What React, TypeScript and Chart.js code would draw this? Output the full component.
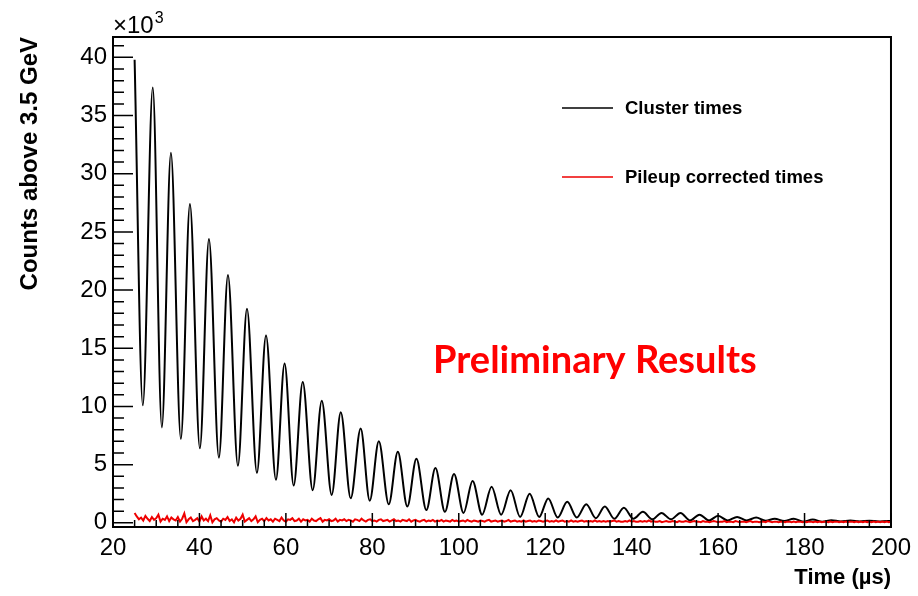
import React, { useEffect, useRef } from 'react';
import { Chart, registerables } from 'chart.js';

Chart.register(...registerables);

// Cluster times: peaks and troughs of the wiggle (counts in units of 10^3)
const clusterTimes = [
  25.0, 26.9, 29.2, 31.3, 33.4, 35.7, 37.8, 40.1, 42.2, 44.5,
  46.6, 48.9, 51.0, 53.3, 55.4, 57.7, 59.7, 61.8, 63.9, 66.2,
  68.3, 70.6, 72.7, 75.0, 77.3, 79.4, 81.5, 83.8, 85.9, 88.1,
  90.2, 92.5, 94.6, 96.8, 98.9, 101.1, 103.2, 105.4, 107.6, 109.8,
  112.0, 114.2, 116.4, 118.6, 120.7, 122.9, 125.1, 127.3, 129.5, 131.7,
  133.8, 136.0, 138.2, 140.4, 142.6, 144.8, 146.9, 149.1, 151.3, 153.5,
  155.7, 157.9, 160.0, 162.2, 164.4, 166.6, 168.8, 171.0, 173.1, 175.3,
  177.5, 179.7, 181.9, 184.1, 186.2, 188.4, 190.6, 192.8, 195.0, 197.1,
  199.3, 200.0,
];
const clusterCounts = [
  39.8, 10.1, 37.4, 8.2, 31.8, 7.2, 27.4, 6.4, 24.4, 5.6,
  21.3, 4.9, 18.4, 4.3, 16.1, 3.7, 13.7, 3.2, 12.1, 2.8,
  10.5, 2.4, 9.5, 2.1, 8.1, 1.9, 7.0, 1.6, 6.1, 1.4,
  5.5, 1.1, 4.7, 0.95, 4.2, 0.85, 3.6, 0.7, 3.1, 0.7,
  2.8, 0.5, 2.5, 0.5, 2.1, 0.45, 1.8, 0.45, 1.6, 0.4,
  1.4, 0.35, 1.3, 0.35, 0.95, 0.3, 0.85, 0.3, 0.85, 0.2,
  0.7, 0.2, 0.6, 0.2, 0.5, 0.2, 0.45, 0.18, 0.35, 0.15,
  0.35, 0.1, 0.28, 0.1, 0.22, 0.12, 0.2, 0.12, 0.18, 0.12,
  0.16, 0.15,
];

// Pileup corrected times: one value per 0.5 us bin starting at 25 us (units of 10^3)
const pileupStart = 25;
const pileupBinWidth = 0.5;
const pileupCounts = [
  0.85, 0.55, 0.30, 0.45, 0.20, 0.60, 0.35, 0.15, 0.50, 0.25, 0.40, 0.70, 0.10, 0.35, 0.25, 0.55, 0.15, 0.45, 0.30, 0.20,
  0.50, 0.10, 0.35, 0.80, 0.05, 0.30, 0.45, 0.15, 0.25, 0.40, 0.10, 0.55, 0.20, 0.35, 0.15, 0.65, 0.05, 0.30, 0.40, 0.20,
  0.10, 0.35, 0.25, 0.50, 0.15, 0.30, 0.05, 0.45, 0.20, 0.35, 0.70, 0.10, 0.25, 0.40, 0.15, 0.30, 0.55, 0.05, 0.25, 0.35,
  0.15, 0.40, 0.20, 0.30, 0.10, 0.35, 0.25, 0.15, 0.45, 0.20, 0.10, 0.30, 0.25, 0.40, 0.15, 0.20, 0.35, 0.10, 0.30, 0.20,
  0.25, 0.10, 0.35, 0.20, 0.15, 0.30, 0.40, 0.10, 0.25, 0.20, 0.30, 0.15, 0.20, 0.35, 0.10, 0.25, 0.20, 0.30, 0.15, 0.25,
  0.20, 0.10, 0.30, 0.25, 0.15, 0.35, 0.20, 0.10, 0.25, 0.30, 0.15, 0.20, 0.10, 0.25, 0.30, 0.15, 0.20, 0.25, 0.10, 0.20,
  0.30, 0.15, 0.20, 0.10, 0.25, 0.20, 0.15, 0.30, 0.10, 0.20, 0.25, 0.15, 0.10, 0.20, 0.25, 0.10, 0.20, 0.15, 0.25, 0.10,
  0.20, 0.15, 0.25, 0.10, 0.20, 0.15, 0.10, 0.25, 0.15, 0.20, 0.10, 0.15, 0.20, 0.10, 0.25, 0.15, 0.10, 0.20, 0.15, 0.10,
  0.20, 0.15, 0.10, 0.20, 0.25, 0.10, 0.15, 0.20, 0.10, 0.15, 0.20, 0.10, 0.15, 0.25, 0.10, 0.15, 0.20, 0.10, 0.15, 0.10,
  0.20, 0.10, 0.15, 0.20, 0.10, 0.15, 0.10, 0.20, 0.15, 0.10, 0.15, 0.20, 0.10, 0.15, 0.10, 0.20, 0.10, 0.15, 0.20, 0.10,
  0.15, 0.10, 0.20, 0.10, 0.15, 0.10, 0.15, 0.20, 0.10, 0.15, 0.10, 0.15, 0.10, 0.20, 0.10, 0.15, 0.10, 0.15, 0.10, 0.15,
  0.10, 0.15, 0.20, 0.10, 0.15, 0.10, 0.10, 0.15, 0.10, 0.20, 0.10, 0.15, 0.10, 0.10, 0.15, 0.10, 0.15, 0.10, 0.20, 0.10,
  0.15, 0.10, 0.10, 0.15, 0.05, 0.10, 0.15, 0.10, 0.10, 0.15, 0.10, 0.05, 0.15, 0.10, 0.10, 0.15, 0.10, 0.05, 0.10, 0.15,
  0.10, 0.10, 0.05, 0.15, 0.10, 0.10, 0.05, 0.10, 0.15, 0.10, 0.05, 0.10, 0.10, 0.15, 0.05, 0.10, 0.10, 0.05, 0.15, 0.10,
  0.05, 0.10, 0.10, 0.05, 0.10, 0.15, 0.05, 0.10, 0.10, 0.05, 0.10, 0.10, 0.05, 0.15, 0.10, 0.05, 0.10, 0.10, 0.05, 0.10,
  0.10, 0.05, 0.10, 0.10, 0.05, 0.10, 0.05, 0.10, 0.10, 0.05, 0.10, 0.05, 0.10, 0.10, 0.05, 0.10, 0.05, 0.10, 0.05, 0.10,
  0.10, 0.05, 0.10, 0.05, 0.10, 0.10, 0.05, 0.10, 0.05, 0.10, 0.05, 0.10, 0.10, 0.05, 0.10, 0.05, 0.10, 0.05, 0.10, 0.05,
  0.10, 0.05, 0.10, 0.05, 0.10, 0.05, 0.10, 0.05, 0.10, 0.05, 0.10,
];

const xTickValues = [20, 40, 60, 80, 100, 120, 140, 160, 180, 200];
const yTickValues = [0, 5, 10, 15, 20, 25, 30, 35, 40];
const xMinorStep = 5;
const yMinorStep = 1;

const seriesLabels = ['Cluster times', 'Pileup corrected times'];
const seriesColors = ['#000000', '#ee0000'];
const axisTitleX = 'Time (\u00b5s)';
const axisTitleY = 'Counts above 3.5 GeV';
const exponentBase = '\u00d710';
const exponentPower = '3';
const watermark = 'Preliminary Results';

const decorPlugin = {
  id: 'decor',
  afterDraw(chart: any) {
    const { ctx, chartArea: a, scales } = chart;
    const xs = scales.x;
    const ys = scales.y;
    ctx.save();
    ctx.strokeStyle = '#000';
    ctx.lineWidth = 1.5;
    ctx.beginPath();
    for (let v = 0; v <= ys.max; v += yMinorStep) {
      const py = ys.getPixelForValue(v);
      const len = v % 5 === 0 ? 20 : 11;
      ctx.moveTo(a.left, py);
      ctx.lineTo(a.left + len, py);
    }
    for (let v = xs.min; v <= xs.max; v += xMinorStep) {
      const px = xs.getPixelForValue(v);
      const len = v % 20 === 0 ? 14 : 7;
      ctx.moveTo(px, a.bottom);
      ctx.lineTo(px, a.bottom - len);
    }
    ctx.stroke();
    ctx.lineWidth = 2;
    ctx.strokeRect(a.left, a.top, a.right - a.left, a.bottom - a.top);

    // exponent label
    ctx.fillStyle = '#000';
    ctx.textAlign = 'left';
    ctx.textBaseline = 'alphabetic';
    ctx.font = '24px "Liberation Sans", Arial, sans-serif';
    ctx.fillText(exponentBase, a.left, 33);
    const w = ctx.measureText(exponentBase).width;
    ctx.font = '16px "Liberation Sans", Arial, sans-serif';
    ctx.fillText(exponentPower, a.left + w + 1, 23);

    // legend
    const ds = chart.data.datasets;
    const rows = [108, 177];
    ds.forEach((d: any, i: number) => {
      const y = rows[i];
      ctx.strokeStyle = d.borderColor;
      ctx.lineWidth = 1.5;
      ctx.beginPath();
      ctx.moveTo(562, y);
      ctx.lineTo(613, y);
      ctx.stroke();
      ctx.fillStyle = '#000';
      ctx.font = 'bold 18.5px "Liberation Sans", Arial, sans-serif';
      ctx.textBaseline = 'middle';
      ctx.fillText(d.label, 625, y + 1);
    });

    // watermark
    ctx.fillStyle = '#ff0000';
    ctx.font = 'bold 38px Lato, "Liberation Sans", sans-serif';
    ctx.textBaseline = 'alphabetic';
    ctx.textAlign = 'left';
    ctx.fillText(watermark, 433, 373);
    ctx.restore();
  },
};

export default function App() {
  const ref = useRef<HTMLCanvasElement>(null);
  useEffect(() => {
    const canvas = ref.current;
    if (!canvas) return;
    const chart = new Chart(canvas, {
      type: 'line',
      data: {
        datasets: [
          {
            label: seriesLabels[0],
            data: clusterTimes.map((t, i) => ({ x: t, y: clusterCounts[i] })),
            borderColor: seriesColors[0],
            borderWidth: 2,
            pointRadius: 0,
            fill: false,
            cubicInterpolationMode: 'monotone',
            order: 2,
          },
          {
            label: seriesLabels[1],
            data: pileupCounts.map((c, i) => ({ x: pileupStart + i * pileupBinWidth, y: c })),
            borderColor: seriesColors[1],
            borderWidth: 2,
            pointRadius: 0,
            fill: false,
            tension: 0,
            order: 1,
          },
        ],
      },
      options: {
        animation: false,
        responsive: true,
        maintainAspectRatio: false,
        devicePixelRatio: 1,
        events: [],
        layout: { padding: { left: 0, top: 37, right: 26, bottom: 0 } },
        plugins: { legend: { display: false }, tooltip: { enabled: false } },
        scales: {
          x: {
            type: 'linear',
            min: 20,
            max: 200,
            afterBuildTicks: (s: any) => {
              s.ticks = xTickValues.map((v) => ({ value: v }));
            },
            afterFit: (s: any) => {
              s.height = 69;
            },
            grid: { display: false, drawTicks: false },
            border: { display: false },
            ticks: {
              color: '#000',
              padding: 7,
              maxRotation: 0,
              autoSkip: false,
              font: { family: '"Liberation Sans", Arial, sans-serif', size: 24 },
            },
            title: {
              display: true,
              text: axisTitleX,
              align: 'end',
              color: '#000',
              font: { family: '"Liberation Sans", Arial, sans-serif', size: 22, weight: 'bold' },
              padding: { top: 0, bottom: 5 },
            },
          },
          y: {
            type: 'linear',
            min: -0.36,
            max: 41.75,
            afterBuildTicks: (s: any) => {
              s.ticks = yTickValues.map((v) => ({ value: v }));
            },
            afterFit: (s: any) => {
              s.width = 113;
            },
            grid: { display: false, drawTicks: false },
            border: { display: false },
            ticks: {
              color: '#000',
              padding: 6,
              autoSkip: false,
              font: { family: '"Liberation Sans", Arial, sans-serif', size: 24 },
            },
            title: {
              display: true,
              text: axisTitleY,
              align: 'end',
              color: '#000',
              font: { family: '"Liberation Sans", Arial, sans-serif', size: 24, weight: 'bold' },
              padding: { top: 16, bottom: 0 },
            },
          },
        },
      },
      plugins: [decorPlugin],
    } as any);
    return () => chart.destroy();
  }, []);
  return (
    <div style={{ position: 'absolute', left: 0, top: 0, width: 918, height: 596, background: '#fff' }}>
      <canvas ref={ref} />
    </div>
  );
}
